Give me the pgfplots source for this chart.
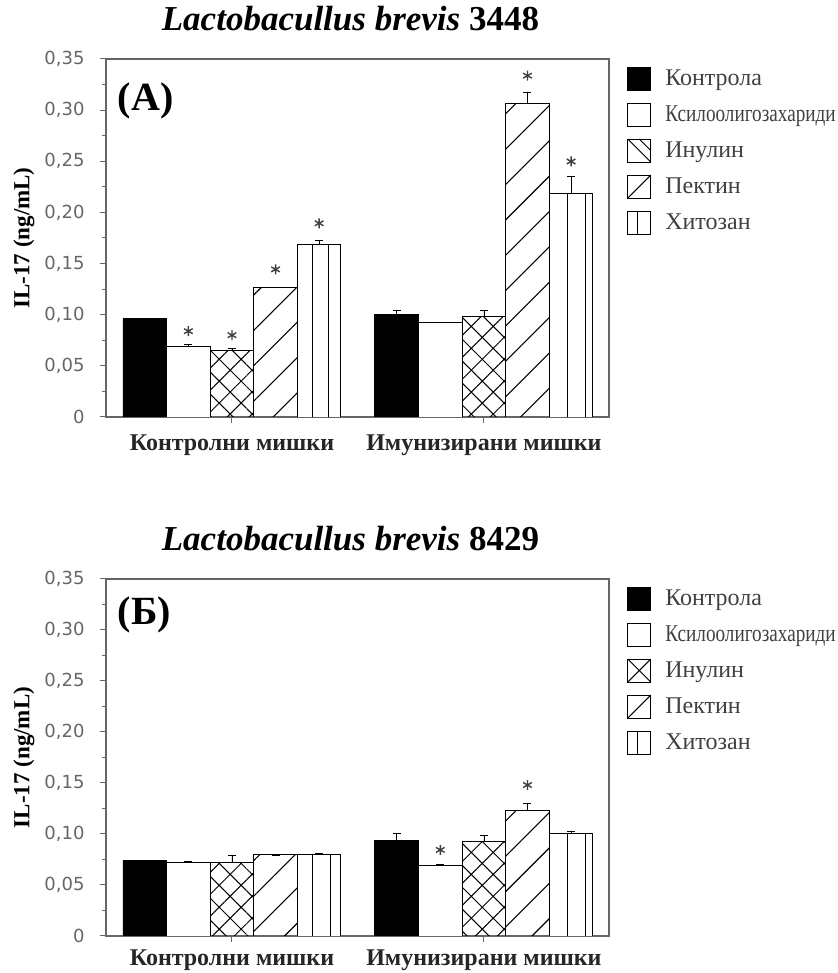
\documentclass[border=0pt]{standalone}
\usepackage{fontspec}
\setmainfont{Liberation Serif}
\newfontfamily\tickfont{DejaVu Sans}
\usepackage{graphicx}
\usepackage{pgfplots}
\pgfplotsset{compat=1.18}
\usetikzlibrary{patterns.meta}

\pgfplotsset{
  mybar/.style={ybar, bar width=1, bar shift=0pt, draw=black, line width=0.9pt,
    error bars/y dir=plus, error bars/y explicit,
    error bars/error bar style={black, line width=0.8pt},
    error bars/error mark options={black, rotate=90, mark size=4pt, line width=0.8pt}},
  combl/.style={ycomb, black, line width=0.9pt, mark=none, forget plot},
  stars/.style={only marks, mark=asterisk, mark size=5pt, black!75, line width=1.4pt, forget plot},
  myaxis/.style={
    scale only axis, width=503pt,
    xmin=0, xmax=11.54, ymin=0, ymax=0.35,
    axis line style={draw=black!60, line width=1.1pt},
    ytick={0,0.05,0.10,0.15,0.20,0.25,0.30,0.35},
    yticklabels={{0},{0,05},{0,10},{0,15},{0,20},{0,25},{0,30},{0,35}},
    minor y tick num=1,
    tick align=outside, ytick pos=left, xtick pos=bottom,
    major tick length=6pt, minor tick length=4pt,
    tick style={black!60, line width=1pt},
    yticklabel style={font=\tickfont\fontsize{18}{20}\selectfont, text=black!60, xshift=-12pt},
    xtick={2.89,8.67},
    xticklabels={Контролни мишки, Имунизирани мишки},
    xticklabel style={font=\bfseries\fontsize{24}{26}\selectfont, text=black!85, yshift=-8pt},
    ylabel={IL-17 (ng/mL)},
    ylabel style={font=\bfseries\fontsize{23}{25}\selectfont, at={(axis description cs:-0.163,0.5)}, anchor=center},
    title style={font=\bfseries\fontsize{35}{37}\selectfont, at={(axis description cs:0.486,1)}, anchor=base, yshift=22pt},
    legend style={at={(axis description cs:1.03,0.985)}, anchor=north west, draw=none, fill=none,
      font=\fontsize{24}{26}\selectfont, text=black!75, row sep=12pt,
      /tikz/every odd column/.append style={column sep=12pt}},
    legend cell align=left,
  },
  leg/.style={legend image code/.code={\draw[black, line width=1pt, #1] (0pt,-11.5pt) rectangle (23pt,11.5pt);}},
}

\begin{document}
\begin{tikzpicture}
\useasboundingbox (0,0) rectangle (837pt,973pt);

% ---------------- Top panel ----------------
\begin{axis}[myaxis, height=358pt, at={(106pt,556pt)}, anchor=south west,
  title={\itshape Lactobacullus brevis \upshape 3448}]
\addplot[mybar, fill=black, leg={fill=black}] coordinates {(0.89,0.0963) +- (0,0.0) (6.67,0.1002) +- (0,0.0043)};
\addplot[mybar, fill=white, leg={fill=white}] coordinates {(1.89,0.0692) +- (0,0.0016) (7.67,0.0924) +- (0,0.0)};
\addplot[mybar, pattern={Hatch[angle=45,distance=15.5pt,line width=1pt]},
  legend image code/.code={\draw[black, line width=1pt, fill=white] (0pt,-11.5pt) rectangle (23pt,11.5pt);
     \draw[black, line width=1pt] (0pt,11.5pt) -- (23pt,-11.5pt); \draw[black, line width=1pt] (11.5pt,11.5pt) -- (23pt,0pt);}]
  coordinates {(2.89,0.0653) +- (0,0.0016) (8.67,0.0983) +- (0,0.006)};
\addplot[mybar, pattern={Lines[angle=45,distance=25pt,line width=1.1pt]},
  legend image code/.code={\draw[black, line width=1pt, fill=white] (0pt,-11.5pt) rectangle (23pt,11.5pt);
     \draw[black, line width=1pt] (0pt,-11.5pt) -- (23pt,11.5pt);}]
  coordinates {(3.89,0.1263) +- (0,0.0) (9.67,0.3062) +- (0,0.011)};
\addplot[mybar, fill=white,
  legend image code/.code={\draw[black, line width=1pt, fill=white] (0pt,-11.5pt) rectangle (23pt,11.5pt);
     \draw[black, line width=1pt] (10pt,-11.5pt) -- (10pt,11.5pt);}]
  coordinates {(4.89,0.1691) +- (0,0.0036) (10.67,0.2187) +- (0,0.017)};
\addplot[combl] coordinates {(4.73,0.1691) (5.11,0.1691) (10.59,0.2187) (10.99,0.2187)};
\addplot[stars] coordinates {(1.89,0.0839) (2.89,0.0800) (3.89,0.1443) (4.89,0.1894) (9.67,0.3337) (10.67,0.2498)};
\node[font=\bfseries\fontsize{40}{42}\selectfont] at (axis description cs:0.079,0.883) {(А)};
\legend{Контрола, \scalebox{0.8}[1]{Ксилоолигозахариди}, Инулин, Пектин, Хитозан}
\end{axis}

% ---------------- Bottom panel ----------------
\begin{axis}[myaxis, height=357pt, at={(106pt,37pt)}, anchor=south west,
  xticklabel style={yshift=4pt},
  title={\itshape Lactobacullus brevis \upshape 8429}]
\addplot[mybar, fill=black, leg={fill=black}] coordinates {(0.89,0.0736) +- (0,0.001) (6.67,0.0939) +- (0,0.007)};
\addplot[mybar, fill=white, leg={fill=white}] coordinates {(1.89,0.0720) +- (0,0.0015) (7.67,0.0687) +- (0,0.0016)};
\addplot[mybar, pattern={Hatch[angle=45,distance=15.5pt,line width=1pt]},
  legend image code/.code={\draw[black, line width=1pt, fill=white] (0pt,-11.5pt) rectangle (23pt,11.5pt);
     \draw[black, line width=1pt] (0pt,11.5pt) -- (23pt,-11.5pt); \draw[black, line width=1pt] (0pt,-11.5pt) -- (23pt,11.5pt);}]
  coordinates {(2.89,0.0720) +- (0,0.0075) (8.67,0.0926) +- (0,0.006)};
\addplot[mybar, pattern={Lines[angle=45,distance=25pt,line width=1.1pt]},
  legend image code/.code={\draw[black, line width=1pt, fill=white] (0pt,-11.5pt) rectangle (23pt,11.5pt);
     \draw[black, line width=1pt] (0pt,-11.5pt) -- (23pt,11.5pt);}]
  coordinates {(3.89,0.0795) +- (0,0.0) (9.67,0.1227) +- (0,0.007)};
\addplot[mybar, fill=white,
  legend image code/.code={\draw[black, line width=1pt, fill=white] (0pt,-11.5pt) rectangle (23pt,11.5pt);
     \draw[black, line width=1pt] (10pt,-11.5pt) -- (10pt,11.5pt);}]
  coordinates {(4.89,0.0795) +- (0,0.0016) (10.67,0.1004) +- (0,0.0026)};
\addplot[combl] coordinates {(4.73,0.0795) (5.14,0.0795) (10.59,0.1004) (10.99,0.1004)};
\addplot[stars] coordinates {(7.67,0.0844) (9.67,0.1480)};
\node[font=\bfseries\fontsize{40}{42}\selectfont] at (axis description cs:0.076,0.899) {(Б)};
\legend{Контрола, \scalebox{0.8}[1]{Ксилоолигозахариди}, Инулин, Пектин, Хитозан}
\end{axis}
\end{tikzpicture}
\end{document}
